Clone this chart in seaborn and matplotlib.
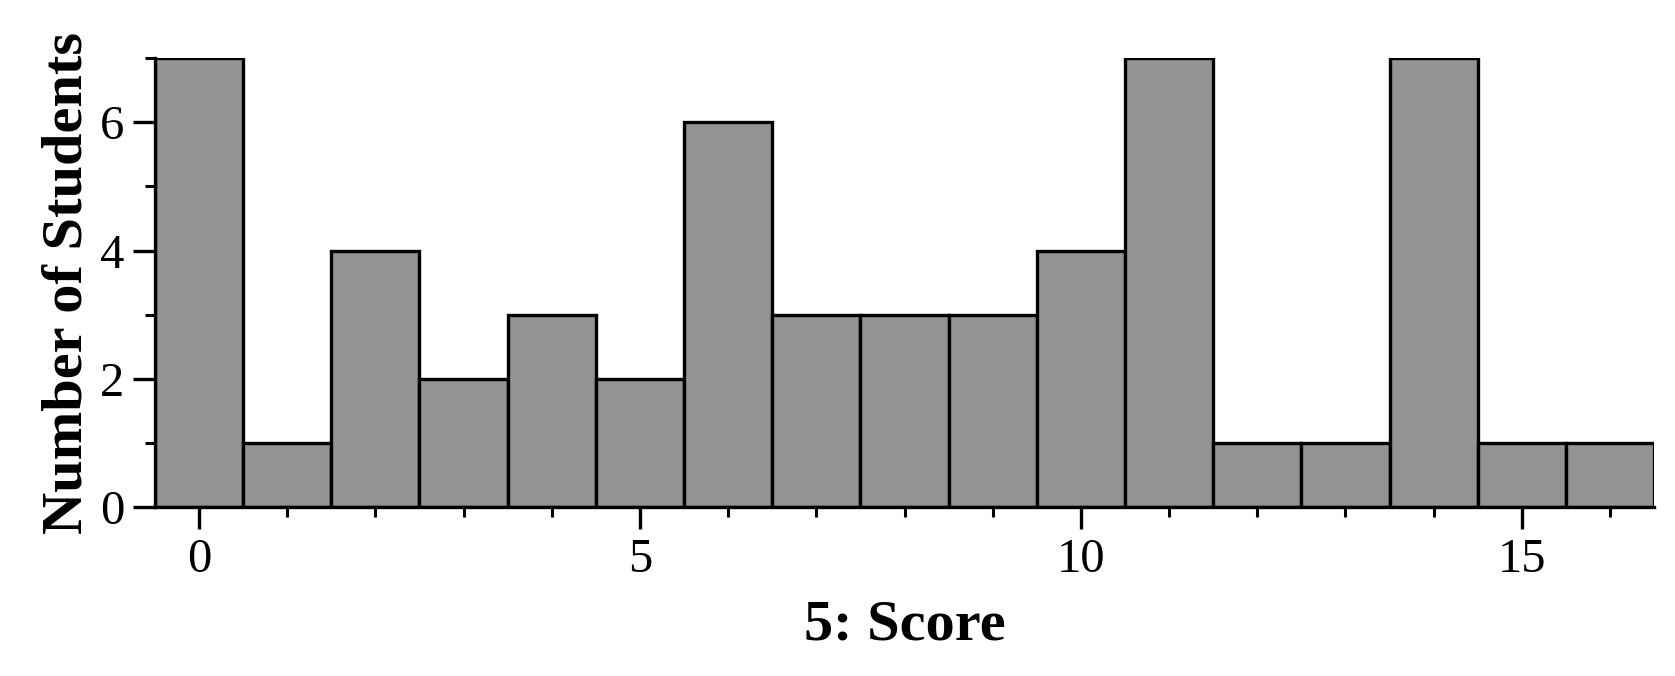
import numpy as np
import pandas as pd
import matplotlib
matplotlib.use("Agg")
import matplotlib.pyplot as plt
from matplotlib.ticker import MultipleLocator
import seaborn as sns

# score values and how many students got each
scores = [0, 1, 2, 3, 4, 5, 6, 7, 8, 9, 10, 11, 12, 13, 14, 15, 16]
counts = [7, 1, 4, 2, 3, 2, 6, 3, 3, 3, 4, 7, 1, 1, 7, 1, 1]

x_label = "5: Score"
y_label = "Number of Students"

sns.set_style("ticks")
plt.rcParams["font.family"] = ["Liberation Serif", "DejaVu Serif"]
plt.rcParams["text.color"] = "black"
plt.rcParams["axes.labelcolor"] = "black"

df = pd.DataFrame({"score": scores, "n": counts})

fig = plt.figure(figsize=(16.75, 6.76), dpi=100)
ax = fig.add_axes([0.0925, 0.25, 0.895, 0.664])

sns.histplot(
    data=df,
    x="score",
    weights="n",
    discrete=True,
    color="#939393",
    edgecolor="black",
    linewidth=2.4,
    alpha=1.0,
    ax=ax,
)

ax.set_xlim(-0.5, 16.5)
ax.set_ylim(0, 7)
ax.xaxis.set_major_locator(MultipleLocator(5))
ax.xaxis.set_minor_locator(MultipleLocator(1))
ax.yaxis.set_major_locator(MultipleLocator(2))
ax.yaxis.set_minor_locator(MultipleLocator(1))

ax.tick_params(which="major", length=16, width=2.4, labelsize=35, pad=6, colors="black")
ax.tick_params(which="minor", length=7.5, width=2.2, colors="black")
for side in ["left", "bottom"]:
    ax.spines[side].set_linewidth(2.4)
    ax.spines[side].set_color("black")
sns.despine(ax=ax)

ax.set_xlabel(x_label, fontsize=42, fontweight="bold", labelpad=13)
ax.set_ylabel(y_label, fontsize=42, fontweight="bold", labelpad=5)

fig.savefig("out.png", dpi=100)
plt.close()
